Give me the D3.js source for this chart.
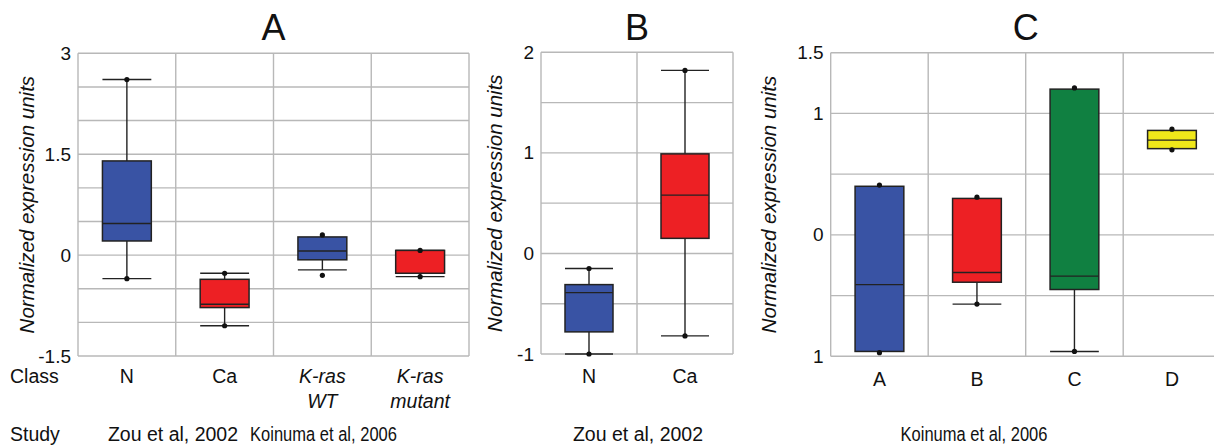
<!DOCTYPE html>
<html>
<head>
<meta charset="utf-8">
<script src="https://cdn.jsdelivr.net/npm/d3@7"></script>
<style>
  body { margin: 0; background: #fff; }
  svg { font-family: "Liberation Sans", Arial, sans-serif; }
</style>
</head>
<body>
<svg id="chart" width="1214" height="447"></svg>
<script>
// ---------- Data ----------
// Panel A (Zou et al 2002 / Koinuma et al 2006)
const catsA = ["N", "Ca", "K-ras WT", "K-ras mutant"];
const lowA  = [-0.35, -1.05, -0.22, -0.32];
const q1A   = [0.21, -0.78, -0.07, -0.27];
const medA  = [0.47, -0.73, 0.06, 0.07];
const q3A   = [1.40, -0.36, 0.27, 0.07];
const highA = [2.61, -0.27, 0.27, 0.07];
const dotsA = [[2.61, -0.35], [-0.27, -1.05], [0.30, -0.30], [0.07, -0.32]];
const colorsA = ["#3953a4", "#ed2024", "#3953a4", "#ed2024"];
const ticksA = [3, 1.5, 0, -1.5];
const tickLabelsA = ["3", "1.5", "0", "-1.5"];

// Panel B (Zou et al 2002)
const catsB = ["N", "Ca"];
const lowB  = [-1.0, -0.82];
const q1B   = [-0.78, 0.15];
const medB  = [-0.39, 0.58];
const q3B   = [-0.31, 0.99];
const highB = [-0.15, 1.82];
const dotsB = [[-0.15, -1.0], [1.82, -0.82]];
const colorsB = ["#3953a4", "#ed2024"];
const ticksB = [2, 1, 0, -1];
const tickLabelsB = ["2", "1", "0", "-1"];

// Panel C (Koinuma et al 2006)
const catsC = ["A", "B", "C", "D"];
const lowC  = [-0.96, -0.57, -0.96, 0.71];
const q1C   = [-0.96, -0.39, -0.45, 0.71];
const medC  = [-0.41, -0.31, -0.34, 0.78];
const q3C   = [0.40, 0.30, 1.20, 0.86];
const highC = [0.40, 0.30, 1.20, 0.86];
const dotsC = [[0.41, -0.97], [0.31, -0.57], [1.21, -0.96], [0.87, 0.70]];
const colorsC = ["#3953a4", "#ed2024", "#108041", "#f0e81a"];
const ticksC = [1.5, 1, 0, -1];
const tickLabelsC = ["1.5", "1", "0", "1"];

const yLabel = "Normalized expression units";

// ---------- Drawing ----------
const svg = d3.select("#chart");
const gridColor = "#b8b8b8";
const ink = "#222";

function panel(opts) {
  const { title, left, right, top, bottom, domain, gridStep, cats, low, q1, med, q3, high, dots, colors,
          ticks, tickLabels, ylabelX } = opts;
  const x = d3.scaleBand().domain(cats).range([left, right]).padding(0);
  const y = d3.scaleLinear().domain(domain).range([bottom, top]);
  const g = svg.append("g");

  const gridVals = d3.range(domain[0], domain[1] + 1e-9, gridStep);
  g.append("g").selectAll("line").data(gridVals).join("line")
    .attr("x1", left).attr("x2", right)
    .attr("y1", d => y(d)).attr("y2", d => y(d))
    .attr("stroke", gridColor).attr("stroke-width", 1.4);
  const vb = cats.map(c => x(c)).concat([right]);
  g.append("g").selectAll("line").data(vb).join("line")
    .attr("x1", d => d).attr("x2", d => d)
    .attr("y1", top).attr("y2", bottom)
    .attr("stroke", gridColor).attr("stroke-width", 1.4);

  g.append("g").selectAll("text").data(ticks).join("text")
    .attr("x", left - 7).attr("y", d => y(d))
    .attr("text-anchor", "end").attr("dominant-baseline", "central")
    .attr("font-size", 19).attr("fill", "#111")
    .text((d, i) => tickLabels[i]);

  g.append("text")
    .attr("transform", `translate(${ylabelX},${(top + bottom) / 2}) rotate(-90)`)
    .attr("text-anchor", "middle").attr("dominant-baseline", "central")
    .attr("font-size", 20.5).attr("font-style", "italic").attr("fill", "#111")
    .text(yLabel);

  g.append("text")
    .attr("x", (left + right) / 2).attr("y", 40)
    .attr("text-anchor", "middle").attr("font-size", 36).attr("fill", "#111")
    .text(title);

  const bw = x.bandwidth() * 0.5;
  cats.forEach((c, i) => {
    const cx = x(c) + x.bandwidth() / 2;
    const bx = cx - bw / 2;
    const bg = g.append("g");
    if (high[i] > q3[i]) {
      bg.append("line").attr("x1", cx).attr("x2", cx).attr("y1", y(q3[i])).attr("y2", y(high[i]))
        .attr("stroke", ink).attr("stroke-width", 1.4);
      bg.append("line").attr("x1", bx).attr("x2", bx + bw).attr("y1", y(high[i])).attr("y2", y(high[i]))
        .attr("stroke", ink).attr("stroke-width", 1.4);
    }
    if (low[i] < q1[i]) {
      bg.append("line").attr("x1", cx).attr("x2", cx).attr("y1", y(q1[i])).attr("y2", y(low[i]))
        .attr("stroke", ink).attr("stroke-width", 1.4);
      bg.append("line").attr("x1", bx).attr("x2", bx + bw).attr("y1", y(low[i])).attr("y2", y(low[i]))
        .attr("stroke", ink).attr("stroke-width", 1.4);
    }
    bg.append("rect").attr("x", bx).attr("width", bw)
      .attr("y", y(q3[i])).attr("height", y(q1[i]) - y(q3[i]))
      .attr("fill", colors[i]).attr("stroke", ink).attr("stroke-width", 1.5);
    bg.append("line").attr("x1", bx).attr("x2", bx + bw).attr("y1", y(med[i])).attr("y2", y(med[i]))
      .attr("stroke", ink).attr("stroke-width", 1.4);
    bg.selectAll("circle").data(dots[i]).join("circle")
      .attr("cx", cx).attr("cy", d => y(d)).attr("r", 2.6).attr("fill", "#111");
  });
  return x;
}

const xA = panel({ title: "A", left: 78, right: 469, top: 53.3, bottom: 356, domain: [-1.5, 3], gridStep: 0.5,
  cats: catsA, low: lowA, q1: q1A, med: medA, q3: q3A, high: highA, dots: dotsA, colors: colorsA,
  ticks: ticksA, tickLabels: tickLabelsA, ylabelX: 26 });
const xB = panel({ title: "B", left: 541, right: 733, top: 52.3, bottom: 354, domain: [-1, 2], gridStep: 0.5,
  cats: catsB, low: lowB, q1: q1B, med: medB, q3: q3B, high: highB, dots: dotsB, colors: colorsB,
  ticks: ticksB, tickLabels: tickLabelsB, ylabelX: 494 });
const xC = panel({ title: "C", left: 830.7, right: 1220.7, top: 52.7, bottom: 356.3, domain: [-1, 1.5], gridStep: 0.5,
  cats: catsC, low: lowC, q1: q1C, med: medC, q3: q3C, high: highC, dots: dotsC, colors: colorsC,
  ticks: ticksC, tickLabels: tickLabelsC, ylabelX: 768 });

// ---------- Bottom labels ----------
const lab = svg.append("g").attr("font-size", 19.5).attr("fill", "#111");
const center = (x, c) => x(c) + x.bandwidth() / 2;

lab.append("text").attr("x", 10).attr("y", 383).text("Class");
lab.append("text").attr("x", 10).attr("y", 441).text("Study");

lab.append("text").attr("x", center(xA, "N")).attr("y", 383).attr("text-anchor", "middle").text("N");
lab.append("text").attr("x", center(xA, "Ca")).attr("y", 383).attr("text-anchor", "middle").text("Ca");
[["K-ras WT", "K-ras", "WT"], ["K-ras mutant", "K-ras", "mutant"]].forEach(([c, l1, l2]) => {
  const cx = center(xA, c);
  lab.append("text").attr("x", cx).attr("y", 383).attr("text-anchor", "middle").attr("font-style", "italic").text(l1);
  lab.append("text").attr("x", cx).attr("y", 408).attr("text-anchor", "middle").attr("font-style", "italic").text(l2);
});

// study label: full-height glyphs, horizontally condensed to the target width
function study(xc, txt, w) {
  const gg = lab.append("g");
  const t = gg.append("text").attr("x", 0).attr("y", 0).attr("text-anchor", "middle").text(txt);
  const nat = t.node().getComputedTextLength();
  const s = Math.min(1, w / nat);
  gg.attr("transform", `translate(${xc},441) scale(${s},1)`);
}
study(173, "Zou et al, 2002", 140);
study(323.5, "Koinuma et al, 2006", 147);

catsB.forEach(c => lab.append("text").attr("x", center(xB, c)).attr("y", 383).attr("text-anchor", "middle").text(c));
study(638, "Zou et al, 2002", 140);

catsC.forEach(c => lab.append("text").attr("x", center(xC, c)).attr("y", 386).attr("text-anchor", "middle").text(c));
study(974, "Koinuma et al, 2006", 147);
</script>
</body>
</html>
